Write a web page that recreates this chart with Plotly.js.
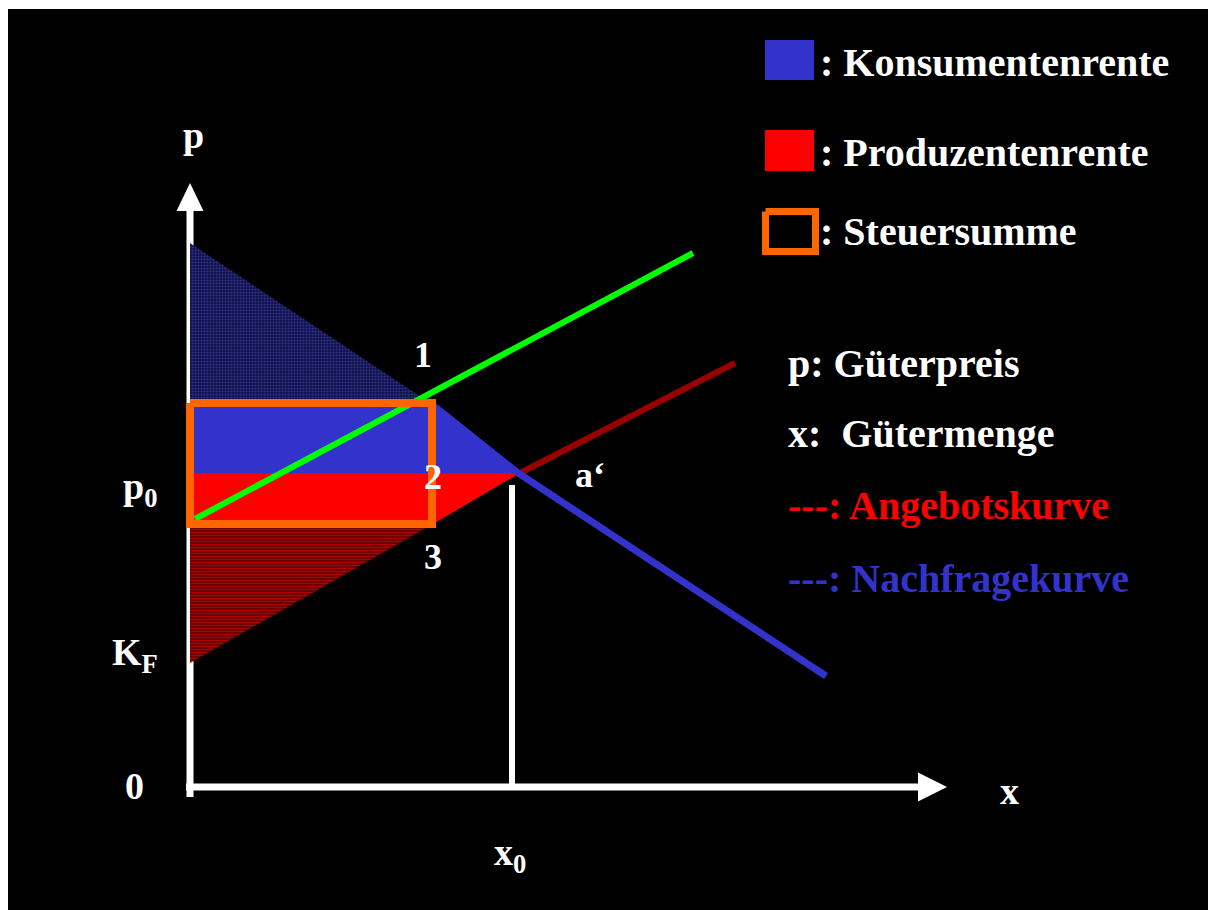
<!DOCTYPE html>
<html>
<head>
<meta charset="utf-8">
<script src="https://cdn.plot.ly/plotly-3.0.1.min.js"></script>
<style>html,body{margin:0;padding:0;background:#fff;}</style>
</head>
<body>
<div id="chart" style="width:1208px;height:910px;"></div>
<script>
// ---- model values (diagram units) ----
const priceAxisTop = 60.4;   // tip of p arrow
const qtyAxisEnd = 75.7;     // tip of x arrow
const p0 = 31.4;             // market price
const pGross = 38.4;         // price incl. tax (top of tax box)
const pNet = 26.3;           // price excl. tax (bottom of tax box)
const xTax = 24.2;           // quantity with tax (right edge of box)
const x0 = 32.2;             // equilibrium quantity
const x0Top = 30.2;
const KF = 12.4;

const demandX = [0, 24.0, 32.8, 63.6];
const demandY = [54.4, 38.4, 31.4, 11.1];
const supplyX = [0, 24.3, 33.0, 54.5];
const supplyY = [KF, 26.3, 31.4, 42.4];
const taxSupplyX = [0.5, 50.3];
const taxSupplyY = [26.8, 53.4];

const legendLabels = [": Konsumentenrente", ": Produzentenrente", ": Steuersumme"];
const infoLabels = ["p: Güterpreis", "x:\u00a0 Gütermenge", "---: Angebotskurve", "---: Nachfragekurve"];

// ---- colours ----
const WHITE = '#ffffff', BLUE = '#3333cc', RED = '#ff0000', ORANGE = '#ff6600',
      GREEN = '#00ff00', DARKRED = '#990000';
const FONT = 'Liberation Serif, Times New Roman, serif';

function line(x, y, color, width) {
  return {type: 'scatter', mode: 'lines', x: x, y: y, hoverinfo: 'skip',
          line: {color: color, width: width}, showlegend: false};
}
function poly(x, y, color, pattern) {
  const t = {type: 'scatter', mode: 'lines', x: x.concat([x[0]]), y: y.concat([y[0]]),
             fill: 'toself', fillcolor: color, line: {width: 0, color: color},
             hoverinfo: 'skip', showlegend: false};
  if (pattern) t.fillpattern = pattern;
  return t;
}

const traces = [];
// axes (drawn first, partly covered by areas)
traces.push(line([0, 0], [-1.0, priceAxisTop - 2.7], WHITE, 7));
traces.push(line([-0.4, qtyAxisEnd - 2.9], [0, 0], WHITE, 7));
traces.push(poly([0, -1.35, 1.35], [priceAxisTop, priceAxisTop - 2.8, priceAxisTop - 2.8], WHITE));
traces.push(poly([qtyAxisEnd, qtyAxisEnd - 2.9, qtyAxisEnd - 2.9], [0, 1.45, -1.45], WHITE));

// supply line (visible part beyond the equilibrium)
traces.push(line(supplyX.slice(2), supplyY.slice(2), DARKRED, 6));

// areas
traces.push(poly([0, demandX[1], 0], [demandY[0], pGross, pGross], '#15154f',
  {shape: '.', bgcolor: '#10104a', fgcolor: '#34348c', size: 3, solidity: 0.4, fillmode: 'replace'}));
traces.push(poly([0, demandX[1], demandX[2], 0], [pGross, pGross, p0, p0], BLUE));
traces.push(poly([0, supplyX[2], supplyX[1], 0], [p0, p0, pNet, pNet], RED));
traces.push(poly([0, supplyX[1], 0], [pNet, pNet, KF], '#7a0000',
  {shape: '-', bgcolor: '#660000', fgcolor: '#b00000', size: 3, solidity: 0.4, fillmode: 'replace'}));

// demand line (visible from the tax box onwards)
traces.push(line(demandX.slice(1), demandY.slice(1), BLUE, 7));
// x0 line
traces.push(line([x0, x0], [0, x0Top], WHITE, 6));
// supply incl. tax
traces.push(line(taxSupplyX, taxSupplyY, GREEN, 6));
// tax box
traces.push(line([0, xTax, xTax, 0, 0], [pGross, pGross, pNet, pNet, pGross], ORANGE, 8));

// legend swatches
traces.push(poly([57.5, 62.4, 62.4, 57.5], [74.7, 74.7, 70.7, 70.7], BLUE));
traces.push(poly([57.5, 62.4, 62.4, 57.5], [65.7, 65.7, 61.6, 61.6], RED));
traces.push(line([57.55, 62.55, 62.55, 57.55, 57.55], [57.55, 57.55, 53.55, 53.55, 57.55], ORANGE, 7));

function txt(x, y, text, opts) {
  opts = opts || {};
  return {x: x, y: y, xref: 'x', yref: 'y', text: text, showarrow: false,
    xanchor: opts.xanchor || 'center', yanchor: 'middle',
    font: {family: FONT, size: opts.size || 38, color: opts.color || WHITE, weight: 'bold'}};
}

const annotations = [
  txt(62.8, 72.5, legendLabels[0], {xanchor: 'left', size: 40}),
  txt(62.8, 63.5, legendLabels[1], {xanchor: 'left', size: 40}),
  txt(62.8, 55.6, legendLabels[2], {xanchor: 'left', size: 40}),
  txt(59.6, 42.4, infoLabels[0], {xanchor: 'left', size: 40}),
  txt(59.6, 35.4, infoLabels[1], {xanchor: 'left', size: 40}),
  txt(59.6, 28.2, infoLabels[2], {xanchor: 'left', size: 40, color: RED}),
  txt(59.6, 20.9, infoLabels[3], {xanchor: 'left', size: 40, color: BLUE}),
  txt(0.3, 65.2, 'p'),
  txt(23.3, 43.2, '1', {size: 36}),
  txt(24.3, 31.0, '2', {size: 36}),
  txt(24.3, 23.0, '3', {size: 36}),
  txt(40.0, 31.2, 'a\u2018', {size: 36}),
  txt(-5.0, 29.8, 'p<sub>0</sub>'),
  txt(-5.5, 13.2, 'K<sub>F</sub>'),
  txt(-5.6, 0.1, '0'),
  txt(81.9, -0.4, 'x'),
  txt(32.0, -6.8, 'x<sub>0</sub>')
];

const layout = {
  width: 1208, height: 910,
  paper_bgcolor: '#ffffff', plot_bgcolor: '#000000',
  margin: {l: 8, r: 0, t: 9, b: 0, pad: 0},
  showlegend: false,
  xaxis: {range: [-18.2, 101.8], visible: false, fixedrange: true},
  yaxis: {range: [-12.3, 77.8], visible: false, fixedrange: true},
  annotations: annotations
};

Plotly.newPlot('chart', traces, layout, {displayModeBar: false, staticPlot: true});
</script>
</body>
</html>
